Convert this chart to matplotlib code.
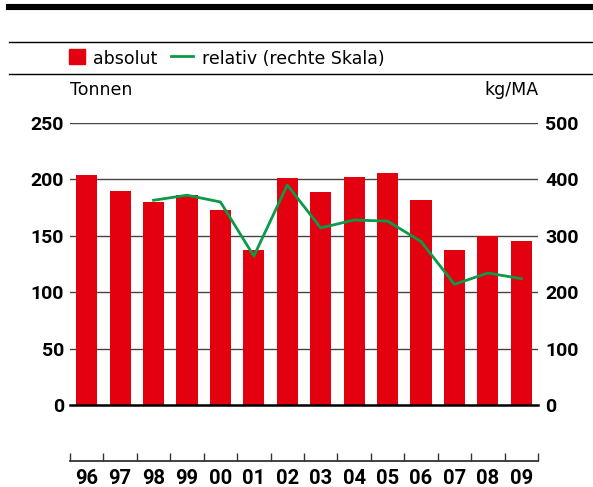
import matplotlib.pyplot as plt
plt.switch_backend('agg')
from matplotlib.patches import Rectangle
from matplotlib.lines import Line2D
import numpy as np

years = ['96', '97', '98', '99', '00', '01', '02', '03', '04', '05', '06', '07', '08', '09']
absolut = [204, 190, 180, 186, 173, 137, 201, 189, 202, 206, 182, 137, 150, 145]
# relative series starts in 98
rel_years = ['98', '99', '00', '01', '02', '03', '04', '05', '06', '07', '08', '09']
relativ = [363, 372, 360, 264, 390, 314, 328, 326, 290, 214, 234, 224]

red = '#e3000f'
green = '#0a9a48'

plt.rcParams['font.family'] = ['DejaVu Sans']
num_font = 'Roboto'

W, H = 593, 487
fig = plt.figure(figsize=(W / 100, H / 100), dpi=100)


def fx(px):
    return px / W


def fy(py):
    return 1 - py / H


x = np.arange(len(years))
xr = [years.index(y) for y in rel_years]

ax = fig.add_axes([fx(70), fy(405), 468 / W, 282 / H])
ax.bar(x, absolut, width=0.63, color=red, zorder=2)
ax.set_xlim(-0.5, len(years) - 0.5)
ax.set_ylim(0, 250)
ax.set_yticks([0, 50, 100, 150, 200, 250])
for v in [50, 100, 150, 200, 250]:
    ax.axhline(v, color='#444444', lw=1, zorder=1)
ax.axhline(0, color='black', lw=1.8, zorder=3, clip_on=False)
for s in ax.spines.values():
    s.set_visible(False)
ax.tick_params(axis='y', length=0, pad=4.3)
ax.tick_params(axis='x', length=0, labelbottom=False)
for t in ax.get_yticklabels():
    t.set_fontfamily(num_font)
    t.set_fontweight('bold')
    t.set_fontsize(14)

ax2 = ax.twinx()
ax2.plot(xr, relativ, color=green, lw=2, zorder=4)
ax2.set_ylim(0, 500)
ax2.set_yticks([0, 100, 200, 300, 400, 500])
for s in ax2.spines.values():
    s.set_visible(False)
ax2.tick_params(axis='y', length=0, pad=5)
for t in ax2.get_yticklabels():
    t.set_fontfamily(num_font)
    t.set_fontweight('bold')
    t.set_fontsize(14)

# separate category axis below
axb = fig.add_axes([fx(70), fy(461), 468 / W, 0.001])
axb.set_xlim(-0.5, len(years) - 0.5)
axb.set_yticks([])
for s in ['top', 'left', 'right']:
    axb.spines[s].set_visible(False)
axb.spines['bottom'].set_color('#333333')
axb.spines['bottom'].set_linewidth(1.3)
axb.set_xticks(x)
axb.set_xticklabels(years, fontsize=14.5, fontweight='bold', family=num_font)
axb.set_xticks(np.arange(-0.5, len(years)), minor=True)
axb.tick_params(axis='x', which='major', length=0, pad=5.5)
axb.tick_params(axis='x', which='minor', direction='in', length=5.8, width=1, color='#333333')
axb.patch.set_visible(False)

# header rules
fig.add_artist(Line2D([fx(9), 1], [fy(7), fy(7)], color='black', lw=4.4))
fig.add_artist(Line2D([fx(9), 1], [fy(41.5), fy(41.5)], color='black', lw=1))
fig.add_artist(Line2D([fx(9), 1], [fy(73.5), fy(73.5)], color='black', lw=1))

# legend
fig.add_artist(Rectangle((fx(69), fy(64)), 16 / W, 15 / H, color=red))
fig.text(fx(93), fy(64.5), 'absolut', fontsize=12.5, va='baseline', ha='left')
fig.add_artist(Line2D([fx(171), fx(193)], [fy(56), fy(56)], color=green, lw=2))
fig.text(fx(202), fy(64.5), 'relativ (rechte Skala)', fontsize=12.5, va='baseline', ha='left')

fig.text(fx(70), fy(95), 'Tonnen', fontsize=12.5, va='baseline', ha='left')
fig.text(fx(538), fy(95), 'kg/MA', fontsize=12.5, va='baseline', ha='right')

fig.savefig('out.png', dpi=100)
